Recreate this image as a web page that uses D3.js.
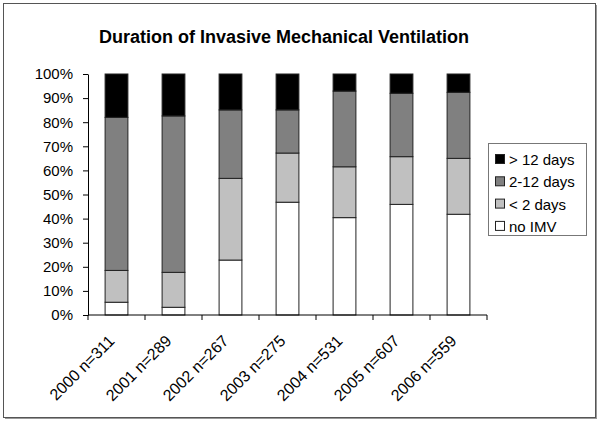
<!DOCTYPE html>
<html><head><meta charset="utf-8">
<script src="https://cdn.jsdelivr.net/npm/d3@7"></script>
<style>body{margin:0;background:#fff}svg{display:block}text{font-family:"Liberation Sans",Arial,sans-serif}</style>
</head><body>
<svg id="c" width="600" height="421"></svg>
<script>
const categories = ["2000 n=311","2001 n=289","2002 n=267","2003 n=275","2004 n=531","2005 n=607","2006 n=559"];
const noIMV     = [5.3, 3.2, 22.8, 46.8, 40.4, 45.9, 41.8];
const lt2days   = [13.2, 14.5, 33.9, 20.4, 21.1, 19.8, 23.2];
const d2to12    = [63.5, 64.9, 28.4, 17.9, 31.4, 26.3, 27.4];
const gt12days  = [18.0, 17.4, 14.9, 14.9, 7.1, 8.0, 7.6];
const seriesNames = ["no IMV","< 2 days","2-12 days","> 12 days"];
const seriesColors = ["#ffffff","#c0c0c0","#808080","#000000"];
const yTicks = [0,10,20,30,40,50,60,70,80,90,100];
const title = "Duration of Invasive Mechanical Ventilation";

const svg = d3.select("#c");
// frame with slight shadow
svg.append("path").attr("d","M596,5 V418 H5").attr("fill","none").attr("stroke","#999").attr("stroke-width",2);
svg.append("rect").attr("x",3.5).attr("y",3.5).attr("width",592).attr("height",414)
  .attr("fill","none").attr("stroke","#555").attr("stroke-width",1);

const m = {left:88, right:487, top:74, bottom:315};
const x = d3.scaleBand().domain(categories).range([m.left,m.right]).paddingInner(0.6).paddingOuter(0.3);
const y = d3.scaleLinear().domain([0,100]).range([m.bottom,m.top]);

const rows = categories.map((c,i)=>({cat:c, "no IMV":noIMV[i], "< 2 days":lt2days[i], "2-12 days":d2to12[i], "> 12 days":gt12days[i]}));
const stack = d3.stack().keys(seriesNames).offset(d3.stackOffsetExpand)(rows);

svg.append("text").attr("x",284).attr("y",43).attr("text-anchor","middle")
  .attr("font-size",18).attr("font-weight","bold").text(title);

stack.forEach((s,si)=>{
  svg.append("g").selectAll("rect").data(s).join("rect")
    .attr("x",d=>x(d.data.cat)).attr("width",x.bandwidth())
    .attr("y",d=>y(d[1]*100)).attr("height",d=>y(d[0]*100)-y(d[1]*100))
    .attr("fill",seriesColors[si]).attr("stroke","#222").attr("stroke-width",1);
});

// Y axis
const ya = svg.append("g").attr("transform",`translate(${m.left},0)`)
  .call(d3.axisLeft(y).tickValues(yTicks).tickFormat(d=>d+"%").tickSize(5).tickSizeOuter(0));
ya.select(".domain").attr("stroke","#000");
ya.selectAll(".tick line").attr("stroke","#000");
ya.selectAll(".tick text").attr("font-size",15).attr("fill","#000").attr("x",-15);

// X axis
const xa = svg.append("g").attr("transform",`translate(0,${m.bottom})`);
xa.append("line").attr("x1",m.left).attr("x2",m.right).attr("y1",0).attr("y2",0).attr("stroke","#000");
const bounds = d3.range(categories.length+1).map(i=>m.left + i*(m.right-m.left)/categories.length);
xa.selectAll("line.tk").data(bounds).join("line").attr("class","tk")
  .attr("x1",d=>d).attr("x2",d=>d).attr("y1",0).attr("y2",5).attr("stroke","#000");
xa.selectAll("text").data(categories).join("text")
  .attr("font-size",16).attr("text-anchor","end")
  .attr("transform",d=>`translate(${x(d)+x.bandwidth()/2-1},${27}) rotate(-45)`)
  .text(d=>d);

// Legend
const lg = svg.append("g");
lg.append("rect").attr("x",488.5).attr("y",143.5).attr("width",98).attr("height",92)
  .attr("fill","#fff").attr("stroke","#777");
const legOrder = [3,2,1,0];
legOrder.forEach((si,k)=>{
  const yy = 160 + k*22.3;
  lg.append("rect").attr("x",495.5).attr("y",yy-5.5).attr("width",9).attr("height",9)
    .attr("fill",seriesColors[si]).attr("stroke","#222");
  lg.append("text").attr("x",509).attr("y",yy+5).attr("font-size",15).text(seriesNames[si]);
});
</script>
</body></html>
